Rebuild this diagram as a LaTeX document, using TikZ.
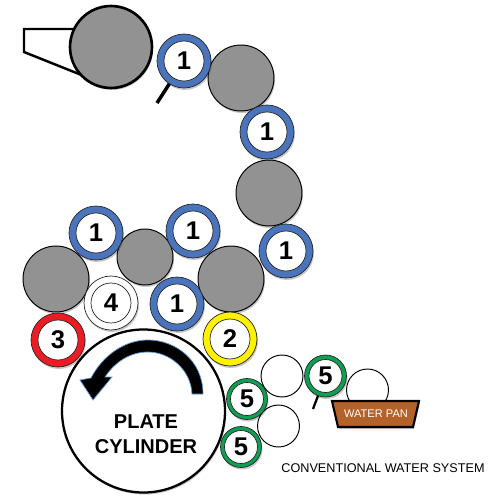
\documentclass[tikz,border=0pt]{standalone}
\usepackage{fontspec}
\setmainfont{Liberation Sans}
\usetikzlibrary{shadows}
\definecolor{ringblue}{HTML}{4A74BC}
\definecolor{ringgreen}{HTML}{0E9F52}
\definecolor{ringred}{HTML}{ED1C24}
\definecolor{ringyellow}{HTML}{FFF200}
\definecolor{rollgrey}{HTML}{929292}
\definecolor{panbrown}{HTML}{B5622A}
\definecolor{arrowglow}{HTML}{5B9BD5}
\tikzset{
  softshadow/.style={drop shadow={shadow xshift=0.02cm,shadow yshift=-0.04cm,opacity=.22,fill=black}},
  roller/.style={circle,draw=black,line width=0.55pt,fill=rollgrey,inner sep=0pt,minimum size=#1*0.04cm,softshadow},
  plainroller/.style={circle,draw=black,line width=0.55pt,fill=white,inner sep=0pt,minimum size=#1*0.04cm},
  ringouter/.style={circle,draw=black!85,line width=0.4pt,inner sep=0pt,softshadow},
  ringinner/.style={circle,draw=black!85,line width=0.4pt,fill=white,inner sep=0pt,text=black,font=\fontsize{14.6}{14.6}\selectfont\bfseries},
  handle/.style={draw=black,line width=2pt},
}
% name, position, fill colour, outer radius, inner radius, digit
\newcommand{\ringat}[6]{%
  \node[ringouter,fill=#3,minimum size=#4*0.04cm] (#1) at (#2) {};
  \node[ringinner,minimum size=#5*0.04cm] (#1i) at (#2) {#6};
}
\begin{document}
\begin{tikzpicture}[x=0.02cm,y=-0.02cm]
\useasboundingbox[fill=white] (0,0) rectangle (500,500);

% feeder wedge and top roller
\coordinate (wa) at (24,29);
\coordinate (wb) at (24,52);
\coordinate (wc) at (78,29);
\coordinate (wd) at (84,76);
\draw[fill=white,line width=1.4pt,line join=miter] (wc) -- (wa) -- (wb) -- (wd);
\node[roller=41,line width=1.5pt] (top) at (111,47) {};

% handles
\coordinate (h1) at (157,103);
\coordinate (h2) at (313,409);

% grey rollers
\node[roller=33] (g1) at (241,78) {};
\node[roller=33] (g2) at (269,193) {};
\node[roller=33] (g3) at (56,279) {};
\node[roller=28] (g4) at (145,257) {};
\node[roller=33] (g5) at (231,279) {};

% plate cylinder
\node[circle,draw=black,line width=1.3pt,fill=white,inner sep=0pt,minimum size=163*0.02cm,softshadow] (plate) at (143.5,411) {};

% handles of rings
\draw[handle] (184,61) -- (h1);
\draw[handle,line width=1.3pt] (325.5,376) -- (h2);

% blue rings
\ringat{r1}{184,61}{ringblue}{27}{20}{1}
\ringat{r2}{267,132}{ringblue}{27}{20}{1}
\ringat{r3}{286,251}{ringblue}{27}{20}{1}
\ringat{r4}{96,233}{ringblue}{27}{20}{1}
\ringat{r5}{193,231}{ringblue}{27}{20}{1}
\ringat{r6}{177,304}{ringblue}{27}{20}{1}
% others
\ringat{w4}{111,303}{white}{27}{20}{4}
\ringat{red}{58,340}{ringred}{27}{20}{3}
\ringat{yel}{230,339}{ringyellow}{27}{20}{2}

% arrow on the plate
\draw[arrowglow,fill=black,line width=0.4pt,line join=miter]
  (203,394) .. controls (203,360) and (175,340) .. (148,340)
  .. controls (125,340) and (103,355) .. (91,378)
  -- (80,380) -- (93,400) -- (112,377) -- (105,377)
  .. controls (115,362) and (130,352) .. (148,352)
  .. controls (170,352) and (191,370) .. (192,394) -- cycle;

\node[font=\fontsize{11.4}{11.4}\selectfont\bfseries] (pl1) at (146,422) {PLATE};
\node[font=\fontsize{11.4}{11.4}\selectfont\bfseries] (pl2) at (146,447) {CYLINDER};

% water system
\node[plainroller=21] (wr1) at (282,376) {};
\node[plainroller=21] (wr2) at (278.5,426) {};
\node[plainroller=21] (wr3) at (367.5,390) {};
\ringat{g5a}{325.5,376}{ringgreen}{21}{16.5}{5}
\ringat{g5b}{247,399}{ringgreen}{20.5}{16.5}{5}
\ringat{g5c}{241,447}{ringgreen}{20.5}{16.5}{5}

\coordinate (pa) at (332,401);
\coordinate (pb) at (419,401);
\coordinate (pc) at (413,427);
\coordinate (pd) at (338,427);
\draw[fill=panbrown,line width=1.2pt,line join=miter,softshadow] (pa) -- (pb) -- (pc) -- (pd) -- cycle;
\node[text=white,font=\fontsize{6.3}{6.3}\selectfont] (pantext) at (376,414) {WATER PAN};
\node[font=\fontsize{7.2}{7.2}\selectfont] (caption) at (383,468) {CONVENTIONAL WATER SYSTEM};
\end{tikzpicture}
\end{document}
